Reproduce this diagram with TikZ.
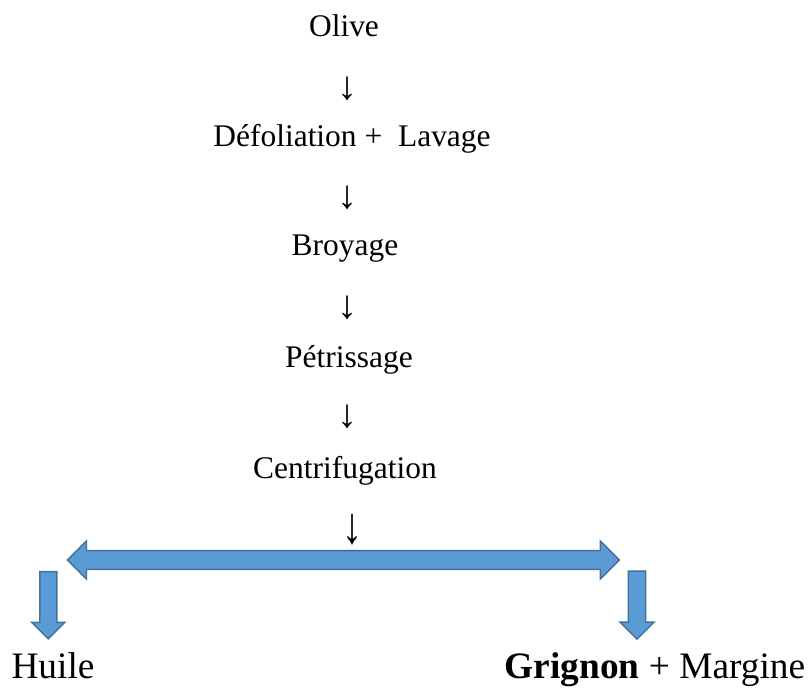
\documentclass[tikz,border=0pt]{standalone}
\usepackage{fontspec}
\setmainfont{Liberation Serif}
\usetikzlibrary{shapes.arrows}
\definecolor{hblue}{RGB}{91,155,213}
\definecolor{hblue0}{RGB}{65,113,156}
\tikzset{every picture/.style={line join=miter}}

\begin{document}
\begin{tikzpicture}[x=0.75pt,y=-0.75pt,
  stage/.style={font=\fontsize{23.6}{28}\selectfont,inner sep=0pt,anchor=base},
  down/.style={font=\fontsize{30}{34}\selectfont,inner sep=0pt},
  product/.style={font=\fontsize{28}{34}\selectfont,inner sep=0pt,anchor=base},
  fat/.style={draw=hblue0,fill=hblue,line width=1.1pt,inner xsep=0pt}]
\useasboundingbox (0,0) rectangle (811,688);
\node[stage] (s1) at (344,37) {Olive};
\node[down] (d1) at (347,89) {↓};
\node[stage] (s2) at (352,147) {Défoliation + \ Lavage};
\node[down] (d2) at (347,198) {↓};
\node[stage] (s3) at (345,256) {Broyage};
\node[down] (d3) at (347,308) {↓};
\node[stage] (s4) at (349,367) {Pétrissage};
\node[down] (d4) at (347,417) {↓};
\node[stage] (s5) at (345,478) {Centrifugation};
\node[down] (d5) at (352,530) {\scalebox{1}[1.3]{↓}};
\node[fat,double arrow,inner ysep=6.5pt,double arrow head extend=7.24pt,
  minimum height=414pt] (split) at (343.3,560) {};
\node[fat,single arrow,rotate=-90,inner ysep=5.8pt,single arrow head extend=6.1pt,
  minimum height=50.5pt] (a1) at (48.3,601) {};
\node[fat,single arrow,rotate=-90,inner ysep=6pt,single arrow head extend=6.2pt,
  minimum height=51pt] (a2) at (637,600.7) {};
\node[product] (oil) at (53,678) {Huile};
\node[product] (rest) at (655,678) {\textbf{Grignon} + Margine};
\end{tikzpicture}
\end{document}
